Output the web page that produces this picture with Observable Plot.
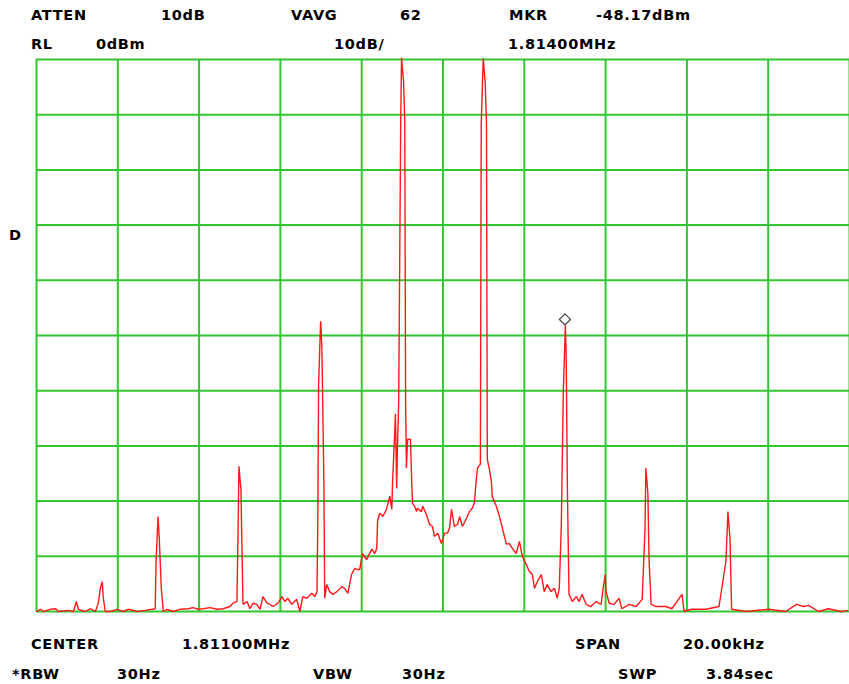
<!DOCTYPE html>
<html>
<head>
<meta charset="utf-8">
<script src="https://cdn.jsdelivr.net/npm/d3@7"></script>
<script src="https://cdn.jsdelivr.net/npm/@observablehq/plot@0.6"></script>
<style>
  html, body { margin: 0; padding: 0; background: #fff; }
  #wrap { position: relative; width: 849px; height: 684px; overflow: hidden; background: #fff; }
  .hdr, .ftr { position: relative; width: 849px; }
  .hdr { height: 57px; }
  .ftr { height: 71px; }
  .t { position: absolute; font-family: "DejaVu Sans", sans-serif; font-weight: bold; font-size: 14.5px;
       line-height: 1; letter-spacing: 0.7px; color: #000; white-space: pre; }
  #chart svg { display: block; }
</style>
</head>
<body>
<div id="wrap">
  <div class="hdr" id="hdr"></div>
  <div id="chart"></div>
  <div class="ftr" id="ftr"></div>
  <span class="t" style="left:9px; top:228px;">D</span>
</div>
<script>
// Frequency offset from center (kHz) and trace level (dBm)
const offsetKHz = [
  -10.00,-9.90,-9.83,-9.66,-9.53,-9.46,-9.24,-9.09,-9.02,-8.97,-8.80,-8.67,-8.55,-8.48,-8.43,-8.38,-8.36,-8.31,-8.18,-8.01,
  -7.87,-7.74,-7.52,-7.33,-7.15,-7.08,-7.06,-7.01,-6.98,-6.93,-6.88,-6.79,-6.64,-6.47,-6.27,-6.15,-6.02,-5.90,-5.73,-5.56,
  -5.41,-5.24,-5.17,-5.07,-5.04,-5.02,-4.97,-4.94,-4.92,-4.82,-4.75,-4.67,-4.58,-4.50,-4.43,-4.33,-4.26,-4.18,-4.06,-3.96,
  -3.89,-3.82,-3.72,-3.60,-3.52,-3.45,-3.35,-3.23,-3.15,-3.10,-3.08,-3.06,-3.01,-2.98,-2.93,-2.91,-2.86,-2.79,-2.71,-2.61,
  -2.49,-2.42,-2.34,-2.25,-2.17,-2.10,-2.05,-1.98,-1.88,-1.75,-1.68,-1.63,-1.61,-1.56,-1.48,-1.39,-1.31,-1.26,-1.24,-1.19,
  -1.17,-1.14,-1.12,-1.09,-1.04,-1.02,-0.97,-0.94,-0.92,-0.90,-0.87,-0.80,-0.77,-0.75,-0.70,-0.65,-0.63,-0.53,-0.50,-0.41,
  -0.33,-0.26,-0.21,-0.13,-0.04,0.04,0.11,0.16,0.21,0.23,0.28,0.36,0.41,0.48,0.58,0.65,0.72,0.77,0.82,0.85,
  0.92,0.94,0.99,1.04,1.07,1.09,1.14,1.19,1.21,1.31,1.39,1.46,1.56,1.63,1.71,1.80,1.88,1.95,2.05,2.12,
  2.20,2.25,2.32,2.42,2.49,2.56,2.66,2.74,2.81,2.86,2.91,2.96,3.01,3.03,3.06,3.10,3.18,3.28,3.35,3.42,
  3.52,3.64,3.77,3.89,3.94,3.99,4.01,4.09,4.21,4.33,4.40,4.58,4.75,4.90,4.97,4.99,5.04,5.07,5.12,5.24,
  5.48,5.63,5.88,5.93,6.12,6.47,6.79,6.96,7.01,7.06,7.10,7.45,8.01,8.43,8.70,8.87,8.99,9.24,9.48,9.80,
  9.95
];
const levelDbm = [
  -100.0,-99.6,-100.0,-99.6,-99.5,-100.0,-99.8,-100.0,-98.2,-99.6,-100.0,-99.5,-100.0,-98.5,-95.8,-94.6,-97.3,-100.0,-100.0,-99.6,
  -100.0,-99.6,-100.0,-99.8,-99.6,-99.5,-91.3,-82.8,-86.8,-95.8,-100.0,-99.6,-100.0,-99.6,-99.5,-99.3,-99.6,-99.5,-99.3,-99.6,
  -99.5,-99.1,-98.5,-98.2,-84.9,-73.7,-78.0,-90.9,-98.7,-98.2,-99.5,-98.5,-98.7,-99.6,-97.3,-98.5,-98.7,-99.1,-98.5,-97.3,
  -98.2,-97.6,-98.7,-97.8,-100.0,-97.3,-97.6,-96.7,-97.3,-96.4,-84.0,-58.8,-47.4,-51.9,-76.8,-97.6,-95.1,-96.4,-96.9,-96.4,
  -95.5,-95.8,-96.7,-93.3,-92.2,-92.4,-92.4,-89.5,-90.6,-88.7,-89.5,-88.6,-83.7,-82.2,-82.8,-81.5,-79.1,-81.5,-76.4,-67.9,
  -64.2,-77.7,-70.4,-61.9,-11.4,0.3,-4.0,-11.4,-61.9,-74.0,-68.8,-68.8,-76.4,-80.4,-80.9,-81.9,-81.3,-81.9,-80.9,-82.4,
  -84.2,-84.6,-86.4,-85.8,-87.7,-85.8,-85.8,-84.9,-81.5,-82.4,-84.6,-84.2,-82.8,-84.6,-83.1,-81.9,-81.3,-80.4,-76.0,-74.0,
  -73.3,-11.8,0.2,-4.4,-11.8,-72.4,-74.2,-76.4,-79.1,-80.9,-82.8,-84.9,-87.8,-87.7,-88.6,-89.5,-87.3,-90.0,-91.5,-92.7,
  -93.3,-95.8,-94.6,-93.3,-96.4,-95.1,-96.4,-95.8,-97.6,-95.8,-84.6,-60.1,-48.2,-53.2,-77.7,-96.9,-98.2,-97.3,-98.2,-96.9,
  -98.7,-99.1,-98.2,-98.7,-95.8,-93.3,-96.4,-98.5,-98.7,-97.6,-99.5,-98.7,-99.1,-97.8,-84.9,-74.0,-78.6,-90.9,-98.7,-99.1,
  -99.1,-99.5,-96.9,-100.0,-99.6,-99.6,-99.1,-90.9,-81.9,-86.8,-99.6,-100.0,-99.6,-100.0,-98.7,-99.1,-98.9,-100.0,-99.5,-100.0,
  -99.8
];

// Grid divisions: 2 kHz/div (span 20 kHz), 10 dB/div (RL 0 dBm)
const gridFreqKHz = [-10, -8, -6, -4, -2, 0, 2, 4, 6, 8, 10];
const gridLevelDbm = [-100, -90, -80, -70, -60, -50, -40, -30, -20, -10, 0];

// Marker
const markerFreqKHz = [3.0];
const markerLevelDbm = [-48.17];

// Annotation texts
const headerRow1 = [["ATTEN", 31], ["10dB", 161], ["VAVG", 291], ["62", 400], ["MKR", 509], ["-48.17dBm", 596]];
const headerRow2 = [["RL", 31], ["0dBm", 96], ["10dB/", 334], ["1.81400MHz", 508]];
const footerRow1 = [["CENTER", 31], ["1.81100MHz", 182], ["SPAN", 575], ["20.00kHz", 683]];
const footerRow2 = [["*RBW", 12], ["30Hz", 117], ["VBW", 313], ["30Hz", 402], ["SWP", 618], ["3.84sec", 706]];

const trace = offsetKHz.map((f, i) => ({f, l: levelDbm[i]}));
const marker = markerFreqKHz.map((f, i) => ({f, l: markerLevelDbm[i]}));

const green = "#33c633";

const plot = Plot.plot({
  width: 849,
  height: 556,
  marginLeft: 36,
  marginRight: 0,
  marginTop: 2,
  marginBottom: 2,
  style: {background: "#fff", overflow: "visible"},
  x: {domain: [-10, 10], axis: null},
  y: {domain: [-100, 0], axis: null},
  marks: [
    Plot.ruleX(gridFreqKHz, {stroke: green, strokeWidth: 2}),
    Plot.ruleY(gridLevelDbm, {stroke: green, strokeWidth: 2}),
    Plot.line(trace, {x: "f", y: "l", stroke: "#ff1a1a", strokeWidth: 1.4, strokeLinejoin: "miter"}),
    Plot.dot(marker, {x: "f", y: "l", symbol: "diamond2", r: 5, dy: -6, stroke: "#444", strokeWidth: 1.3, fill: "#fff"})
  ]
});
document.getElementById("chart").appendChild(plot);

function place(container, rows, tops) {
  rows.forEach((row, ri) => {
    row.forEach(([txt, left]) => {
      const s = document.createElement("span");
      s.className = "t";
      s.textContent = txt;
      s.style.left = left + "px";
      s.style.top = tops[ri] + "px";
      container.appendChild(s);
    });
  });
}
place(document.getElementById("hdr"), [headerRow1, headerRow2], [7.7, 36.7]);
place(document.getElementById("ftr"), [footerRow1, footerRow2], [23.7, 53.7]);
</script>
</body>
</html>
